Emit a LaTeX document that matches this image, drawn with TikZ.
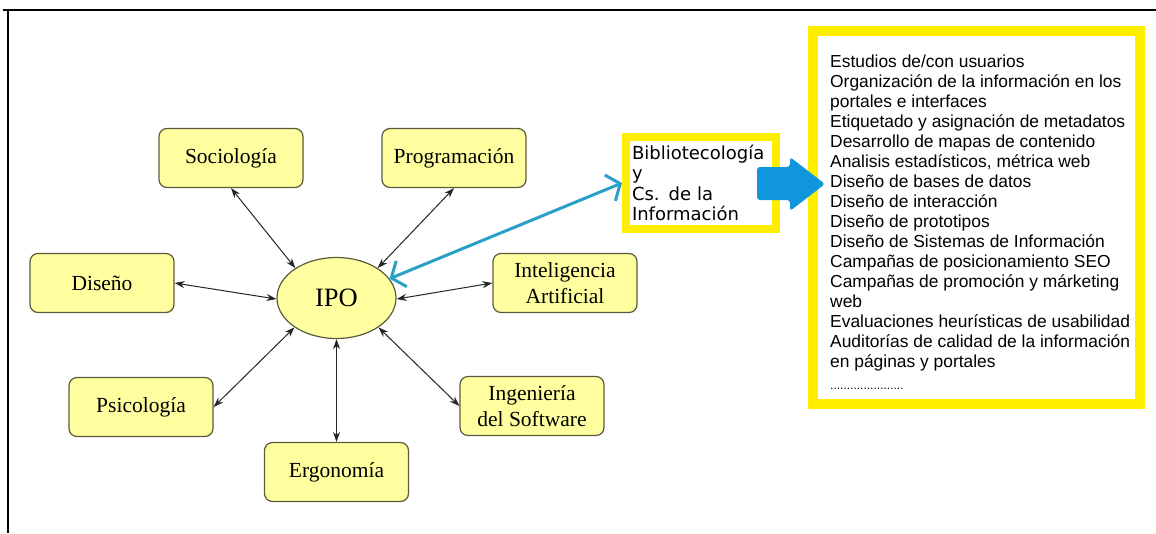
\documentclass[tikz,border=0pt]{standalone}
\usepackage{fontspec}
\setmainfont{Liberation Serif}
\newfontfamily\verdfont{DejaVu Sans}
\newfontfamily\arialfont{Liberation Sans}
\usetikzlibrary{arrows.meta,shapes.geometric}
\definecolor{boxfill}{RGB}{255,255,160}
\definecolor{boxline}{RGB}{90,90,60}
\definecolor{hiyellow}{RGB}{255,238,0}
\definecolor{linkblue}{RGB}{40,160,200}
\definecolor{bigblue}{RGB}{16,150,220}
\begin{document}
\begin{tikzpicture}[x=1pt,y=-1pt,
  disc/.style={draw=boxline, line width=1.2pt, fill=boxfill, rounded corners=8pt,
    minimum width=144pt, minimum height=59pt, inner sep=0pt, align=center,
    font=\fontsize{21.5}{26}\selectfont},
  core/.style={ellipse, draw=boxline, line width=1.2pt, fill=boxfill,
    minimum width=119pt, minimum height=81pt, inner sep=0pt,
    font=\fontsize{26.5}{30}\selectfont},
  link/.style={{Stealth[length=10pt,width=7pt]}-{Stealth[length=10pt,width=7pt]},
    line width=1pt, black!85},
  bluelink/.style={{Straight Barb[length=11pt,width=28pt]}-{Straight Barb[length=11pt,width=28pt]},
    line width=3pt, linkblue},
  hibox/.style={draw=hiyellow, line width=8pt, fill=white, inner sep=0pt},
]
\useasboundingbox (0,0) rectangle (1156,533);
\fill[white] (0,0) rectangle (1156,533);
\draw[line width=2pt] (3,10) -- (1156,10);
\draw[line width=2pt] (8,10) -- (8,533);

\node[core] (ipo) at (336.5,298) {IPO};
\node[disc] (soc) at (231,158) {Sociología};
\node[disc] (prog) at (454,158) {Programación};
\node[disc] (dis) at (102,283) {Diseño};
\node[disc] (ia) at (565,283) {Inteligencia\\Artificial};
\node[disc] (psi) at (141,407) {Psicología};
\node[disc] (ing) at (532,406) {Ingeniería\\del Software};
\node[disc] (erg) at (336.5,472) {Ergonomía};

\draw[link] (soc.south) -- (ipo.144);
\draw[link] (dis.east) -- (ipo.181);
\draw[link] (prog.south) -- (ipo.36);
\draw[link] (ia.west) -- (ipo.-1);
\draw[link] (ing.west) -- (ipo.-35);
\draw[link] (psi.east) -- (ipo.-145);
\draw[link] (erg.north) -- (ipo.south);

\node[hibox, minimum width=150pt, minimum height=92pt, text width=138pt, align=left,
  font=\verdfont\fontsize{18}{20.3}\selectfont] (bib) at (701,183)
  {Bibliotecología\\y\\Cs. de la\\Información};

\draw[bluelink] (ipo.20) -- (bib.west);

\node[hibox, line width=10pt, minimum width=327pt, minimum height=373pt] (lista) at (976.5,217.5) {};
\node[anchor=north west, inner sep=0pt, align=left,
  font=\arialfont\fontsize{17.4}{20}\selectfont] (items) at (830,55)
  {Estudios de/con usuarios\\
   Organización de la información en los\\
   portales e interfaces\\
   Etiquetado y asignación de metadatos\\
   Desarrollo de mapas de contenido\\
   Analisis estadísticos, métrica web\\
   Diseño de bases de datos\\
   Diseño de interacción\\
   Diseño de prototipos\\
   Diseño de Sistemas de Información\\
   Campañas de posicionamiento SEO\\
   Campañas de promoción y márketing\\
   web\\
   Evaluaciones heurísticas de usabilidad\\
   Auditorías de calidad de la información\\
   en páginas y portales\\[2pt]
   {\fontsize{12}{20}\selectfont ......................}};

\fill[bigblue, rounded corners=3pt] (757,167) -- (790,167) -- (790,157) -- (825,184)
  -- (790,211) -- (790,200) -- (757,200) -- cycle;
\end{tikzpicture}
\end{document}
